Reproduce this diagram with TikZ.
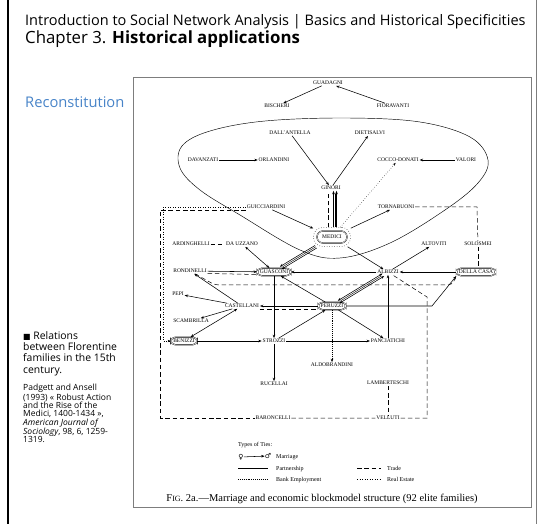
\documentclass[tikz,border=0pt]{standalone}
\usepackage{fontspec}
\setmainfont{Liberation Serif}
\newfontfamily\slidefont{Open Sans}
\newfontfamily\symfont{DejaVu Sans}
\usetikzlibrary{arrows.meta}
\definecolor{slideblue}{RGB}{72,132,200}
\definecolor{framegray}{RGB}{125,125,125}

\tikzset{
  fam/.style={inner sep=0.8pt, font=\fontsize{5.5}{5.5}\selectfont},
  house/.style={fam, draw, double, double distance=0.5pt, line width=0.35pt, rounded corners=4.5pt, inner xsep=2.5pt, inner ysep=2pt},
  marry/.style={draw, -{Stealth[length=3.4pt,width=2.6pt]}, line width=0.55pt},
  twoway/.style={draw, {Stealth[length=3.4pt,width=2.6pt]}-{Stealth[length=3.4pt,width=2.6pt]}, line width=0.55pt},
  trade/.style={draw, line width=0.5pt, dash pattern=on 4.5pt off 2.8pt},
  estate/.style={draw, line width=0.5pt, dotted},
  bank/.style={draw, line width=0.9pt, densely dotted},
  legendtext/.style={anchor=base west, inner sep=0pt, font=\fontsize{6}{6}\selectfont},
  slidetext/.style={anchor=base west, inner sep=0pt, font=\slidefont\fontsize{#1}{#1}\selectfont},
}

\begin{document}
\begin{tikzpicture}[x=1pt,y=-1pt]
\useasboundingbox (0,0) rectangle (539,524);

% slide
\draw[line width=2pt] (8,0) -- (8,524);
\draw[framegray, line width=1pt] (536.5,0) -- (536.5,524);
\node[slidetext=14.5] (course) at (25,26) {Introduction to Social Network Analysis | Basics and Historical Specificities};
\node[slidetext=16.8] (chapter) at (25,44) {Chapter 3. \textbf{Historical applications}};
\node[slidetext=14.7, text=slideblue] (recon) at (25,108) {Reconstitution};
\node[anchor=north west, align=left, inner sep=0pt, font=\slidefont\fontsize{10.4}{11.4}\selectfont] (relations) at (23,331)
  {{\symfont\fontsize{8}{8}\selectfont■} Relations\\between Florentine\\families in the 15th\\century.};
\node[anchor=north west, align=left, inner sep=0pt, font=\slidefont\fontsize{8.5}{8.3}\selectfont] (source) at (23,384)
  {Padgett and Ansell\\(1993) « Robust Action\\and the Rise of the\\Medici, 1400-1434 »,\\\textit{American Journal of}\\\textit{Sociology}, 98, 6, 1259-\\1319.};

% figure
\draw[framegray, line width=0.8pt] (133,77) rectangle (531,507);
\draw[line width=0.45pt] plot[smooth cycle, tension=0.6] coordinates {(347,118) (420,122) (470,137) (488,160) (478,183)
  (445,210) (390,243) (340,258) (300,250) (240,215) (200,190) (180,168) (182,146) (210,131) (265,121)};

\node[fam] (guadagni) at (328,83) {GUADAGNI};
\node[fam] (bischeri) at (277,106) {BISCHERI};
\node[fam] (fioravanti) at (393,106) {FIORAVANTI};
\node[fam] (dallantella) at (290,133) {DALL'ANTELLA};
\node[fam] (dietisalvi) at (370,133) {DIETISALVI};
\node[fam] (davanzati) at (203,160) {DAVANZATI};
\node[fam] (orlandini) at (274,160) {ORLANDINI};
\node[fam] (cocco) at (398,160) {COCCO-DONATI};
\node[fam] (valori) at (466,160) {VALORI};
\node[fam] (ginori) at (331,188) {GINORI};
\node[fam] (guicciardini) at (266,207) {GUICCIARDINI};
\node[fam] (tornabuoni) at (396,207) {TORNABUONI};
\node[house, minimum width=30pt, minimum height=12pt, rounded corners=6pt] (medici) at (332,237) {MEDICI};
\node[draw, dotted, line width=0.5pt, rounded corners=9pt, minimum width=37pt, minimum height=19pt] (medicirim) at (medici) {};
\node[fam] (ardinghelli) at (191,244) {ARDINGHELLI};
\node[fam] (dauzzano) at (242,244) {DA UZZANO};
\node[fam] (altoviti) at (434,244) {ALTOVITI};
\node[fam] (solosmei) at (478,244) {SOLOSMEI};
\node[fam] (rondinelli) at (190,271) {RONDINELLI};
\node[house] (guasconi) at (274,272) {GUASCONI};
\node[fam] (albizzi) at (388,272) {ALBIZZI};
\node[house] (dellacasa) at (476,272) {DELLA CASA};
\node[fam] (pepi) at (178,294) {PEPI};
\node[fam] (castellani) at (242,306) {CASTELLANI};
\node[house] (peruzzi) at (332,306) {PERUZZI};
\node[fam] (scambrilla) at (191,321) {SCAMBRILLA};
\node[house] (benizzi) at (184,341) {BENIZZI};
\node[fam] (strozzi) at (274,341) {STROZZI};
\node[fam] (panciatichi) at (388,341) {PANCIATICHI};
\node[fam] (aldobrandini) at (332,365) {ALDOBRANDINI};
\node[fam] (rucellai) at (274,384) {RUCELLAI};
\node[fam] (lamberteschi) at (388,383) {LAMBERTESCHI};
\node[fam] (baroncelli) at (273,418) {BARONCELLI};
\node[fam] (velluti) at (388,418) {VELLUTI};

% bends of the long ties
\coordinate (estatetop) at (163,207);
\coordinate (estatelow) at (163,341);
\coordinate (tradetop) at (160,210);
\coordinate (tradelow) at (160,418);
\coordinate (traderight) at (427,418);
\coordinate (tradeup) at (427,297);
\coordinate (tradecorner) at (477,207);
\coordinate (midleft) at (215,285);
\coordinate (midright) at (452,285);
\coordinate (perbend) at (432,306);

% marriages
\foreach \source/\dest in {guadagni/bischeri, fioravanti/guadagni, davanzati/orlandini, valori/cocco,
    dallantella/ginori, ginori/dietisalvi, guicciardini/medicirim, medicirim/tornabuoni, medicirim/albizzi,
    albizzi/altoviti, dellacasa/albizzi, albizzi/guasconi, rondinelli/guasconi, peruzzi/guasconi,
    peruzzi/castellani, castellani/rondinelli, castellani/pepi, castellani/scambrilla, benizzi/strozzi,
    strozzi/peruzzi, strozzi/rucellai, guasconi/strozzi, strozzi/panciatichi, peruzzi/panciatichi,
    panciatichi/albizzi}
  \path (\source) edge[marry] (\dest);
\foreach \source/\dest in {dauzzano/guasconi, castellani/benizzi}
  \path (\source) edge[twoway] (\dest);
\draw[marry] (peruzzi) -- (perbend) -- (dellacasa.south west);

% multiple ties
\foreach \dx in {1.5,4.5}
  \draw[marry] ([xshift=\dx pt]medicirim.north) -- ([xshift=\dx pt]medicirim.north |- ginori.south);
\draw[line width=0.4pt] ([xshift=3pt]medicirim.north) -- ([xshift=3pt,yshift=-3pt]medicirim.north |- ginori.south);
\draw[trade] ([xshift=-4pt]medicirim.north) -- ([xshift=-4pt]medicirim.north |- ginori.south);
\foreach \s in {-1,1} {
  \draw[marry, transform canvas={shift={(0.8*\s,1.3*\s)}}] (medicirim) -- (guasconi);
  \draw[twoway, transform canvas={shift={(0.8*\s,1.3*\s)}}] (peruzzi) -- (albizzi);
}
\draw[line width=0.4pt, shorten >=3pt] (medicirim) -- (guasconi);
\draw[line width=0.4pt, shorten >=3pt, shorten <=3pt] (peruzzi) -- (albizzi);
\draw[estate, -{Stealth[length=3pt,width=2.4pt]}, line width=0.45pt] (medicirim) -- (cocco);
\draw[bank, -{Stealth[length=3.4pt,width=2.6pt]}] (peruzzi) -- (peruzzi |- aldobrandini.north);

% trade and real estate
\draw[estate, -{Stealth[length=3pt,width=2.4pt]}] (guicciardini.west) -- (estatetop) -- (estatelow) -- (benizzi);
\draw[trade] (guicciardini.west |- tradetop) -- (tradetop) -- (tradelow) -- (baroncelli);
\draw[trade] (baroncelli) -- (velluti) -- (traderight) -- (tradeup) -- (albizzi);
\draw[trade] (lamberteschi) -- (velluti);
\draw[trade] (ardinghelli) -- (dauzzano);
\draw[trade] (tornabuoni) -- (tradecorner) -- (solosmei);
\draw[trade] (solosmei) -- (solosmei |- dellacasa.north);
\draw[trade, rounded corners=4pt] (rondinelli) -- (midleft) -- (midright) -- (dellacasa.south west);
\draw[trade] ([yshift=-2.5pt]rondinelli.east) -- ([yshift=-2.5pt]guasconi.west);
\draw[trade] ([yshift=-3pt]castellani.east) -- ([yshift=-3pt]peruzzi.west);

% legend
\node[legendtext] (types) at (238,446) {Types of Ties:};
\node[inner sep=0pt, font=\symfont\fontsize{7}{7}\selectfont] (venus) at (241,457) {♀};
\node[inner sep=0pt, font=\symfont\fontsize{7}{7}\selectfont] (mars) at (268,456) {♂};
\path (venus) edge[marry] (mars);
\node[legendtext] (marriage) at (276,458.5) {Marriage};
\coordinate (partA) at (238,468); \coordinate (partB) at (268,468);
\draw[line width=0.7pt] (partA) -- (partB);
\node[legendtext] (partnership) at (276,470) {Partnership};
\coordinate (bankA) at (238,479); \coordinate (bankB) at (268,479);
\draw[bank] (bankA) -- (bankB);
\node[legendtext] (bankemp) at (276,481) {Bank Employment};
\coordinate (tradeA) at (357,468); \coordinate (tradeB) at (381,468);
\draw[trade] (tradeA) -- (tradeB);
\node[legendtext] (tradetxt) at (387,470) {Trade};
\coordinate (estateA) at (357,479); \coordinate (estateB) at (381,479);
\draw[estate] (estateA) -- (estateB);
\node[legendtext] (estatetxt) at (387,481) {Real Estate};
\node[anchor=base, inner sep=0pt, font=\fontsize{10.5}{10.5}\selectfont] (caption) at (322,501)
  {F{\fontsize{8}{8}\selectfont IG}. 2a.---Marriage and economic blockmodel structure (92 elite families)};
\end{tikzpicture}
\end{document}
